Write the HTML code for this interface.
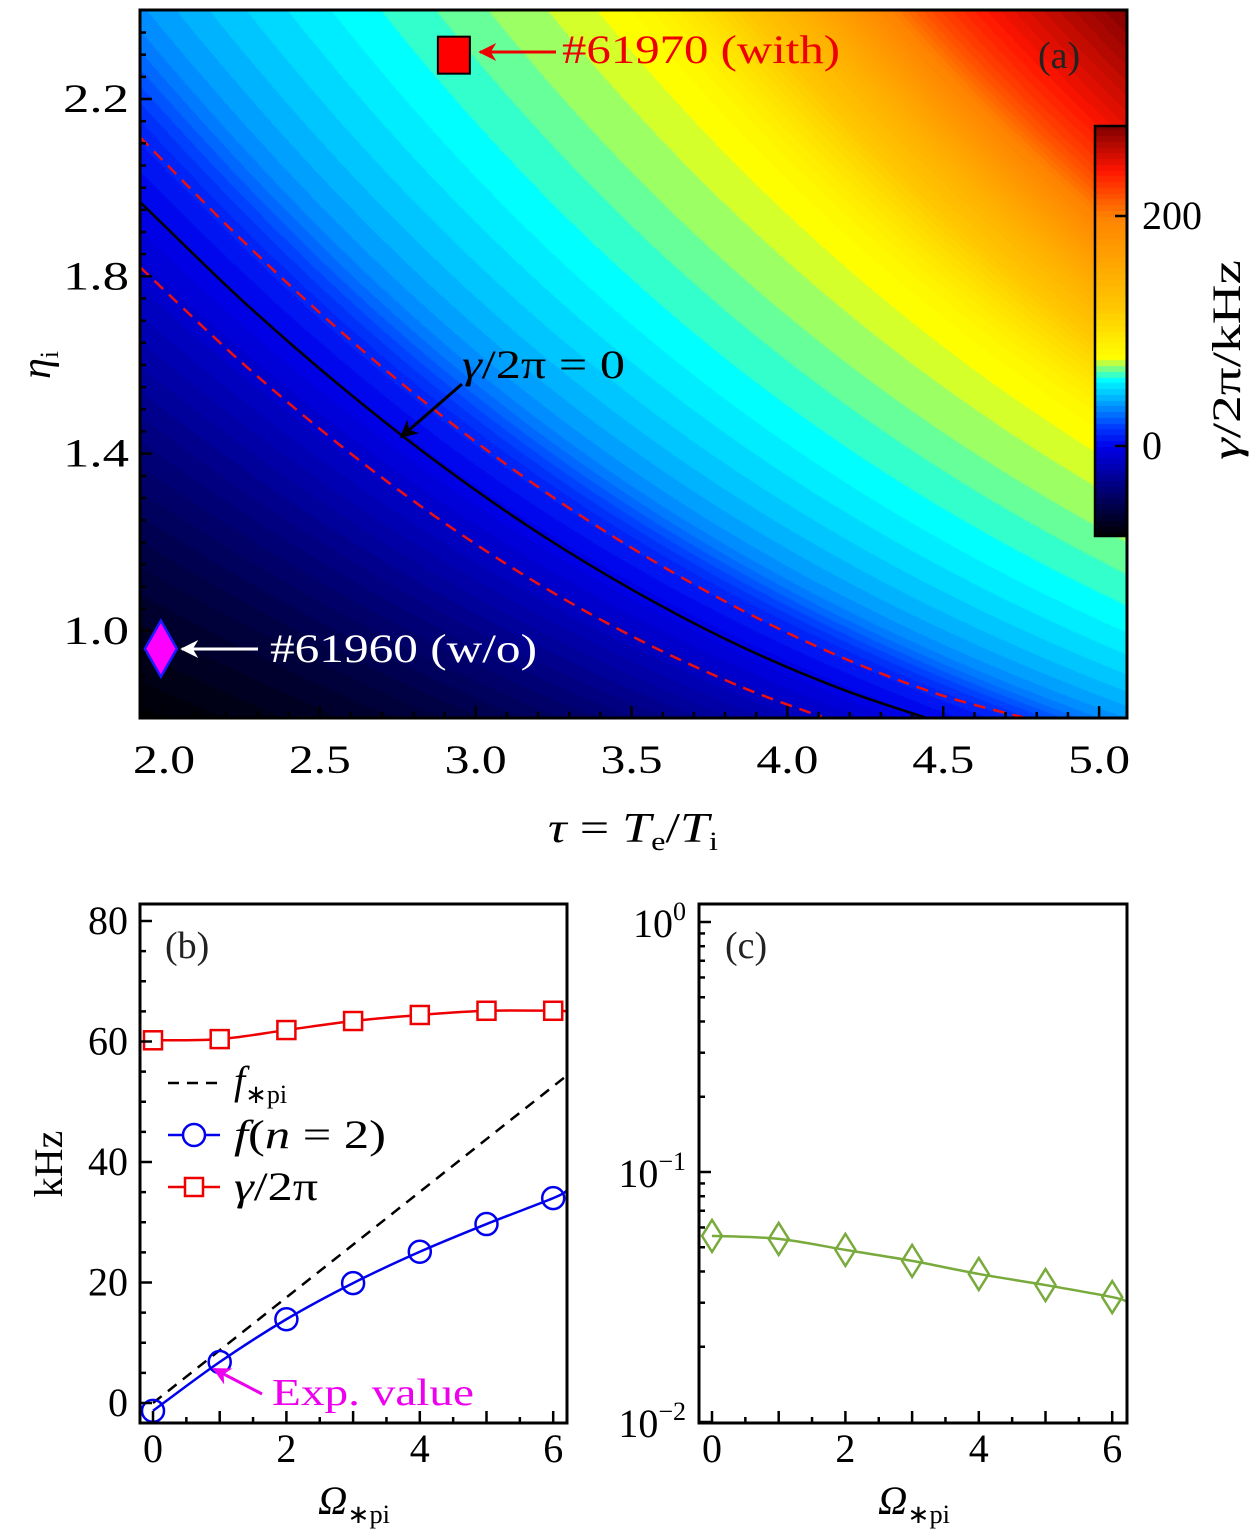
<!DOCTYPE html>
<html><head><meta charset="utf-8">
<style>
html,body{margin:0;padding:0;background:#fff;}
#wrap{position:relative;width:1260px;height:1536px;overflow:hidden;background:#fff;}
canvas,svg{position:absolute;left:0;top:0;}
text{font-family:"Liberation Serif",serif;}
</style></head><body>
<div id="wrap">
<canvas id="heat" width="987" height="708" style="left:140px;top:10px"></canvas>
<canvas id="cbar" width="32" height="410" style="left:1095px;top:126px"></canvas>
<svg id="svg" width="1260" height="1536"></svg>
</div>
<script>
// ---------- Panel (a) data ----------
// field = interp over combined coordinate s = ln(eta) + c1*ln(tau) + c2*ln(tau)^2
const tauCoef = [0.064, 0.468];
const sKnots = [0.019, 0.35, 0.578, 0.841, 0.919, 0.991, 1.117, 1.327, 1.51, 1.69, 1.863, 2.03, 2.218];
const gammaKnots = [-78, -58, -38, -9, 0, 9, 35, 55, 67, 80, 140, 225, 278];
const zeroTau = [1.923, 2.244, 2.565, 2.885, 3.206, 3.527, 3.848, 4.169, 4.445];
const zeroEta = [1.968, 1.750, 1.553, 1.376, 1.219, 1.083, 0.966, 0.870, 0.804];
const upTau = [1.923, 2.244, 2.565, 2.885, 3.206, 3.527, 3.848, 4.169, 4.490, 4.791];
const upEta = [2.114, 1.886, 1.677, 1.489, 1.322, 1.176, 1.049, 0.942, 0.856, 0.799];
const loTau = [1.923, 2.244, 2.565, 2.885, 3.206, 3.527, 3.848, 4.111];
const loEta = [1.821, 1.609, 1.419, 1.251, 1.104, 0.979, 0.875, 0.806];
const aXTicks = ["2.0","2.5","3.0","3.5","4.0","4.5","5.0"];
const aYTicks = ["1.0","1.4","1.8","2.2"];
const cbTicks = ["0","200"];
const shot1 = [2.93, 2.30];
const shot2 = [1.99, 0.96];
// ---------- Panel (b)/(c) data ----------
const omega = [0, 1, 2, 3, 4, 5, 6];
const gammaB = [60.2, 60.4, 61.9, 63.4, 64.4, 65.1, 65.1];
const freqB = [-1.3, 6.8, 13.9, 19.9, 25.1, 29.7, 34.0];
const lineEndX = 6.21;
const gammaEnd = 65.0;
const freqEnd = 35.3;
const fstarX = [0, 6.21];
const fstarY = [0, 54.4];
const ratioC = [0.0555, 0.054, 0.0488, 0.0441, 0.0391, 0.0353, 0.0316];
const ratioEnd = 0.0304;
const bYTicks = ["0","20","40","60","80"];
const bXTicks = ["0","2","4","6"];

const NS = "http://www.w3.org/2000/svg";
const svg = document.getElementById('svg');
function el(tag, attrs, parent){ const e=document.createElementNS(NS,tag); for(const k in attrs) e.setAttribute(k,attrs[k]); (parent||svg).appendChild(e); return e; }

const aX = t => 164 + (t-2.0)*311.7;
const aY = e => 99 + (2.2-e)*443.3;
const cbY = v => 446 - v*1.15;

const cmV = [-78,-40,0,17,40,58,68,77,120,200,240,278];
const cmC = [[0,0,0],[0,0,110],[0,0,235],[0,60,255],[0,170,255],[0,255,255],[128,255,128],[255,255,0],[255,200,0],[255,130,0],[255,20,0],[128,0,0]];
function cmap(v){
  if(v<=cmV[0]) return cmC[0];
  for(let i=1;i<cmV.length;i++){ if(v<=cmV[i]){ const f=(v-cmV[i-1])/(cmV[i]-cmV[i-1]); return cmC[i].map((c,j)=>Math.round(cmC[i-1][j]+(c-cmC[i-1][j])*f)); } }
  return cmC[cmC.length-1];
}
function interpS(s){
  const n=sKnots.length;
  if(s<=sKnots[0]) return gammaKnots[0]+(s-sKnots[0])*(gammaKnots[1]-gammaKnots[0])/(sKnots[1]-sKnots[0]);
  if(s>=sKnots[n-1]) return gammaKnots[n-1]+(s-sKnots[n-1])*(gammaKnots[n-1]-gammaKnots[n-2])/(sKnots[n-1]-sKnots[n-2]);
  let i=0; while(s>sKnots[i+1]) i++;
  const h=sKnots[i+1]-sKnots[i], t=(s-sKnots[i])/h;
  const d=k=>{ if(k<=0) return (gammaKnots[1]-gammaKnots[0])/(sKnots[1]-sKnots[0]); if(k>=n-1) return (gammaKnots[n-1]-gammaKnots[n-2])/(sKnots[n-1]-sKnots[n-2]);
    const a=(gammaKnots[k]-gammaKnots[k-1])/(sKnots[k]-sKnots[k-1]), b=(gammaKnots[k+1]-gammaKnots[k])/(sKnots[k+1]-sKnots[k]); return a*b<=0?0:2/(1/a+1/b); };
  const m0=d(i)*h, m1=d(i+1)*h, y0=gammaKnots[i], y1=gammaKnots[i+1];
  const t2=t*t,t3=t2*t;
  return (2*t3-3*t2+1)*y0+(t3-2*t2+t)*m0+(-2*t3+3*t2)*y1+(t3-t2)*m1;
}
function field(t,e){ const L=Math.log(t); return interpS(Math.log(e)+tauCoef[0]*L+tauCoef[1]*L*L); }
(function(){
  const c=document.getElementById('heat'), ctx=c.getContext('2d'), img=ctx.createImageData(987,708);
  for(let py=0;py<708;py++){ const e=2.2-(py+10-99)/443.3;
    for(let px=0;px<987;px++){ const t=2.0+(px+140-164)/311.7;
      let v=field(t,e); v=Math.floor(v/4)*4+2; const col=cmap(v), k=(py*987+px)*4;
      img.data[k]=col[0];img.data[k+1]=col[1];img.data[k+2]=col[2];img.data[k+3]=255; } }
  ctx.putImageData(img,0,0);
  const cb=document.getElementById('cbar'), cc=cb.getContext('2d');
  for(let py=0;py<410;py++){ const v=(446-(py+126))/1.15; const col=cmap(Math.floor(v/5)*5+2.5); cc.fillStyle=`rgb(${col[0]},${col[1]},${col[2]})`; cc.fillRect(0,py,32,1); }
})();

function smooth(pts){
  let d=`M${pts[0][0]},${pts[0][1]}`;
  for(let i=0;i<pts.length-1;i++){ const p0=pts[Math.max(0,i-1)],p1=pts[i],p2=pts[i+1],p3=pts[Math.min(pts.length-1,i+2)];
    d+=` C${p1[0]+(p2[0]-p0[0])/6},${p1[1]+(p2[1]-p0[1])/6} ${p2[0]-(p3[0]-p1[0])/6},${p2[1]-(p3[1]-p1[1])/6} ${p2[0]},${p2[1]}`; }
  return d;
}
const defs=el('defs',{});
const cpA=el('clipPath',{id:'clipA'},defs); el('rect',{x:140,y:10,width:987,height:708},cpA);
const cpB=el('clipPath',{id:'clipB'},defs); el('rect',{x:140,y:904,width:427,height:519},cpB);
const cpC=el('clipPath',{id:'clipC'},defs); el('rect',{x:699,y:904,width:428,height:519},cpC);
[['black','#000'],['red','#ee0000'],['white','#fff'],['mag','#ee00ee']].forEach(([n,c])=>{ const m=el('marker',{id:'ah-'+n,viewBox:'0 0 10 10',refX:9,refY:5,markerWidth:6,markerHeight:6,orient:'auto-start-reverse',markerUnits:'strokeWidth'},defs); el('path',{d:'M0,0 L10,5 L0,10 L3,5 Z',fill:c},m); });

const gA=el('g',{'clip-path':'url(#clipA)'});
let p=el('path',{d:smooth(upTau.map((t,i)=>[aX(t),aY(upEta[i])])),fill:'none',stroke:'#ee1010','stroke-width':2.5,'stroke-dasharray':'12,8'},gA);
 
p=el('path',{d:smooth(loTau.map((t,i)=>[aX(t),aY(loEta[i])])),fill:'none',stroke:'#ee1010','stroke-width':2.5,'stroke-dasharray':'12,8'},gA);
 
p=el('path',{d:smooth(zeroTau.map((t,i)=>[aX(t),aY(zeroEta[i])])),fill:'none',stroke:'#000','stroke-width':2.5},gA);
 

let m=el('rect',{x:aX(shot1[0])-16,y:aY(shot1[1])-18,width:32,height:37,fill:'#ff0000',stroke:'#000','stroke-width':2});
 
const dx=aX(shot2[0]), dy=aY(shot2[1]);
m=el('path',{d:`M${dx},${dy-28} L${dx+16},${dy} L${dx},${dy+28} L${dx-16},${dy} Z`,fill:'#ff00ff',stroke:'#1a1aff','stroke-width':2.5});
 
el('line',{x1:556,y1:52,x2:480,y2:52,stroke:'#ee0000','stroke-width':3,'marker-end':'url(#ah-red)',});
el('line',{x1:258,y1:649,x2:182,y2:649,stroke:'#fff','stroke-width':3,'marker-end':'url(#ah-white)',});
el('line',{x1:462,y1:384,x2:401,y2:437,stroke:'#000','stroke-width':3,'marker-end':'url(#ah-black)',});
let t=el('text',{x:562,y:63,'font-size':40,fill:'#ee0000',textLength:278,lengthAdjust:'spacingAndGlyphs',}); t.textContent='#61970 (with)';
t=el('text',{x:270,y:662,'font-size':40,fill:'#fff',textLength:267,lengthAdjust:'spacingAndGlyphs',}); t.textContent='#61960 (w/o)';
t=el('text',{x:462,y:378,'font-size':40,fill:'#000',textLength:163,lengthAdjust:'spacingAndGlyphs',}); t.innerHTML='<tspan font-style="italic">γ</tspan>/2π = 0';
t=el('text',{x:1038,y:68,'font-size':38,fill:'#222',}); t.textContent='(a)';

el('rect',{x:140,y:10,width:987,height:708,fill:'none',stroke:'#000','stroke-width':3,});
for(let k=19;k<=51;k++){ const x=aX(k/10); if(x<141||x>1126) continue; const major=k%5===0; el('line',{x1:x,y1:718,x2:x,y2:major?706:712,stroke:'#000','stroke-width':2.5}); }
aXTicks.forEach(s=>{ const tt=el('text',{x:aX(+s)-31,y:773,'font-size':40,textLength:62,lengthAdjust:'spacingAndGlyphs'});   tt.textContent=s; });
for(let k=16;k<=48;k++){ const y=aY(k/20); if(y<11||y>717) continue; const major=(k%8===4); el('line',{x1:140,y1:y,x2:major?152:146,y2:y,stroke:'#000','stroke-width':2.5}); }
aYTicks.forEach(s=>{ const tt=el('text',{x:63,y:aY(+s)+13,'font-size':40,textLength:66,lengthAdjust:'spacingAndGlyphs'});   tt.textContent=s; });
t=el('text',{x:548,y:842,'font-size':42,textLength:170,lengthAdjust:'spacingAndGlyphs',});
t.innerHTML='<tspan font-style="italic">τ</tspan> = <tspan font-style="italic">T</tspan><tspan font-size="26" dy="8">e</tspan><tspan dy="-8">/</tspan><tspan font-style="italic">T</tspan><tspan font-size="26" dy="8">i</tspan>';
t=el('text',{x:0,y:0,'font-size':42,'text-anchor':'middle',transform:'translate(50,365) rotate(-90)',});
t.innerHTML='<tspan font-style="italic">η</tspan><tspan font-size="26" dy="8">i</tspan>';
el('rect',{x:1095,y:126,width:32,height:410,fill:'none',stroke:'#000','stroke-width':2.5,});
cbTicks.forEach(s=>{ const y=cbY(+s); el('line',{x1:1115,y1:y,x2:1127,y2:y,stroke:'#000','stroke-width':2.5}); const tt=el('text',{x:1142,y:y+13,'font-size':40});   tt.textContent=s; });
t=el('text',{x:0,y:0,'font-size':40,textLength:200,lengthAdjust:'spacingAndGlyphs',transform:'translate(1240,460) rotate(-90)',});
t.innerHTML='<tspan font-style="italic">γ</tspan>/2π/kHz';

// ---------- Panel (b) ----------
const bX = o => 153 + o*66.7;
const bY = v => 1403 - v*6.025;
el('line',{x1:bX(fstarX[0]),y1:bY(fstarY[0]),x2:bX(fstarX[1]),y2:bY(fstarY[1]),stroke:'#000','stroke-width':2.5,'stroke-dasharray':'11,8','clip-path':'url(#clipB)',});
p=el('path',{d:smooth(omega.map((o,i)=>[bX(o),bY(gammaB[i])]).concat([[bX(lineEndX),bY(gammaEnd)]])),fill:'none',stroke:'#ee0000','stroke-width':2.5,'clip-path':'url(#clipB)'});
 
p=el('path',{d:smooth(omega.map((o,i)=>[bX(o),bY(freqB[i])]).concat([[bX(lineEndX),bY(freqEnd)]])),fill:'none',stroke:'#0000ee','stroke-width':2.5,'clip-path':'url(#clipB)'});
 
omega.forEach((o,i)=>{
  const s=el('rect',{x:bX(o)-9,y:bY(gammaB[i])-9,width:18,height:18,fill:'#fff',stroke:'#ee0000','stroke-width':2.5});
   
  const c=el('circle',{cx:bX(o),cy:bY(freqB[i]),r:11,fill:'none',stroke:'#0000ee','stroke-width':2.5});
   
});
el('line',{x1:168,y1:1083,x2:220,y2:1083,stroke:'#000','stroke-width':2.5,'stroke-dasharray':'11,8',});
t=el('text',{x:234,y:1094,'font-size':40,}); t.innerHTML='<tspan font-style="italic">f</tspan><tspan font-size="26" dy="9">∗pi</tspan>';
el('line',{x1:168,y1:1135,x2:220,y2:1135,stroke:'#0000ee','stroke-width':2.5});
el('circle',{cx:194,cy:1135,r:11,fill:'#fff',stroke:'#0000ee','stroke-width':2.5,});
t=el('text',{x:234,y:1148,'font-size':40,textLength:152,lengthAdjust:'spacingAndGlyphs',}); t.innerHTML='<tspan font-style="italic">f</tspan>(<tspan font-style="italic">n</tspan> = 2)';
el('line',{x1:168,y1:1187,x2:220,y2:1187,stroke:'#ee0000','stroke-width':2.5});
el('rect',{x:185,y:1178,width:18,height:18,fill:'#fff',stroke:'#ee0000','stroke-width':2.5,});
t=el('text',{x:234,y:1200,'font-size':40,textLength:84,lengthAdjust:'spacingAndGlyphs',}); t.innerHTML='<tspan font-style="italic">γ</tspan>/2π';
t=el('text',{x:165,y:958,'font-size':38,fill:'#222',}); t.textContent='(b)';
el('line',{x1:262,y1:1394,x2:214,y2:1369,stroke:'#ee00ee','stroke-width':3,'marker-end':'url(#ah-mag)',});
t=el('text',{x:272,y:1405,'font-size':38,fill:'#ee00ee',textLength:202,lengthAdjust:'spacingAndGlyphs',}); t.textContent='Exp. value';
el('rect',{x:140,y:904,width:427,height:519,fill:'none',stroke:'#000','stroke-width':3,});
for(let k=0;k<=12;k++){ const x=bX(k/2); el('line',{x1:x,y1:1423,x2:x,y2:k%2?1417:1411,stroke:'#000','stroke-width':2.5}); }
for(let k=0;k<=16;k++){ const y=bY(k*5); el('line',{x1:140,y1:y,x2:k%4?146:152,y2:y,stroke:'#000','stroke-width':2.5}); }
bXTicks.forEach(s=>{ const tt=el('text',{x:bX(+s),y:1462,'font-size':40,'text-anchor':'middle'});   tt.textContent=s; });
bYTicks.forEach(s=>{ const tt=el('text',{x:128,y:bY(+s)+13,'font-size':40,'text-anchor':'end'});   tt.textContent=s; });
t=el('text',{x:318,y:1514,'font-size':40,textLength:72,lengthAdjust:'spacingAndGlyphs',}); t.innerHTML='<tspan font-style="italic">Ω</tspan><tspan font-size="26" dy="9">∗pi</tspan>';
t=el('text',{x:0,y:0,'font-size':40,'text-anchor':'middle',transform:'translate(62,1164) rotate(-90)',}); t.textContent='kHz';

// ---------- Panel (c) ----------
const cX = o => 712 + o*66.7;
const cY = v => 922 - Math.log10(v)*250;
p=el('path',{d:smooth(omega.map((o,i)=>[cX(o),cY(ratioC[i])]).concat([[cX(lineEndX),cY(ratioEnd)]])),fill:'none',stroke:'#78aa3c','stroke-width':2.5,'clip-path':'url(#clipC)'});
 
omega.forEach((o,i)=>{ const x=cX(o),y=cY(ratioC[i]);
  const d=el('path',{d:`M${x},${y-16} L${x+10},${y} L${x},${y+16} L${x-10},${y} Z`,fill:'none',stroke:'#78aa3c','stroke-width':2.5});
    });
t=el('text',{x:725,y:958,'font-size':38,fill:'#222',}); t.textContent='(c)';
el('rect',{x:699,y:904,width:428,height:519,fill:'none',stroke:'#000','stroke-width':3,});
for(let k=0;k<=12;k++){ const x=cX(k/2); el('line',{x1:x,y1:1423,x2:x,y2:k%2?1417:1411,stroke:'#000','stroke-width':2.5}); }
[0.01,0.1].forEach(base=>{ for(let k=1;k<=9;k++){ const y=cY(base*k); el('line',{x1:699,y1:y,x2:k===1?711:705,y2:y,stroke:'#000','stroke-width':2.5}); } });
el('line',{x1:699,y1:cY(1),x2:711,y2:cY(1),stroke:'#000','stroke-width':2.5});
bXTicks.forEach(s=>{ const tt=el('text',{x:cX(+s),y:1462,'font-size':40,'text-anchor':'middle'});   tt.textContent=s; });
[["0",1],["−1",0.1],["−2",0.01]].forEach(([ex,v])=>{ const tt=el('text',{x:686,y:cY(v)+15,'font-size':40,'text-anchor':'end'});   tt.innerHTML=`10<tspan font-size="26" dy="-17">${ex}</tspan>`; });
t=el('text',{x:878,y:1514,'font-size':40,textLength:72,lengthAdjust:'spacingAndGlyphs',}); t.innerHTML='<tspan font-style="italic">Ω</tspan><tspan font-size="26" dy="9">∗pi</tspan>';
</script>
</body></html>
